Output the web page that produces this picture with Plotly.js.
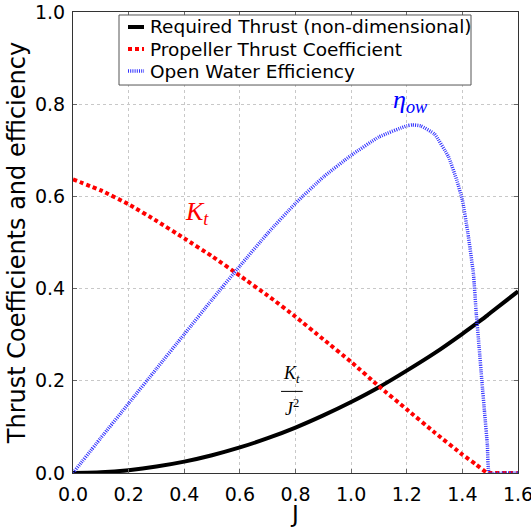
<!DOCTYPE html>
<html>
<head>
<meta charset="utf-8">
<script src="https://cdn.plot.ly/plotly-3.0.1.min.js"></script>
<style>html,body{margin:0;padding:0;background:#fff}#chart{width:531px;height:527px}</style>
</head>
<body>
<div id="chart"></div>
<script>
// Advance coefficient J for thrust curves
const J = [0, 0.1, 0.2, 0.3, 0.4, 0.5, 0.6, 0.7, 0.8, 0.9, 1.0, 1.1, 1.2, 1.3, 1.4, 1.45, 1.49, 1.5, 1.6];
// Required thrust (non-dimensional)
const requiredThrust = [0, 0.0015, 0.0062, 0.0139, 0.0246, 0.0385, 0.0554, 0.0755, 0.0986, 0.125, 0.154, 0.186, 0.222, 0.260, 0.302, 0.324, 0.342, 0.347, 0.394];
// Propeller thrust coefficient Kt
const thrustCoeff = [0.637, 0.613, 0.583, 0.547, 0.509, 0.470, 0.428, 0.385, 0.339, 0.290, 0.241, 0.188, 0.138, 0.088, 0.040, 0.018, 0, 0, 0];
// Open water efficiency
const Jeta = [0, 0.1, 0.2, 0.3, 0.4, 0.5, 0.6, 0.7, 0.8, 0.9, 1.0, 1.1, 1.2, 1.22, 1.25, 1.3, 1.35, 1.38, 1.4, 1.42, 1.44, 1.45, 1.46, 1.47, 1.48, 1.49, 1.497, 1.55, 1.6];
const efficiency = [0, 0.076, 0.151, 0.226, 0.301, 0.376, 0.449, 0.520, 0.585, 0.642, 0.689, 0.729, 0.753, 0.755, 0.753, 0.735, 0.686, 0.635, 0.592, 0.520, 0.430, 0.345, 0.275, 0.200, 0.130, 0.060, 0, 0, 0];

const seriesNames = ['Required Thrust (non-dimensional)', 'Propeller Thrust Coefficient', 'Open Water Efficiency'];
const xTicks = [0, 0.2, 0.4, 0.6, 0.8, 1.0, 1.2, 1.4, 1.6];
const yTicks = [0, 0.2, 0.4, 0.6, 0.8, 1.0];

const lineStyles = [
  {color: '#000000', width: 4},
  {color: '#ff0000', width: 4, dash: '4px,3px'},
  {color: 'rgb(50,50,255)', width: 3.5, dash: '1px,1.2px'}
];

const traces = [
  {x: J, y: requiredThrust, name: seriesNames[0], mode: 'lines', line: Object.assign({shape: 'spline', smoothing: 0.6}, lineStyles[0])},
  {x: J, y: thrustCoeff, name: seriesNames[1], mode: 'lines', line: Object.assign({shape: 'spline', smoothing: 0.4}, lineStyles[1])},
  {x: Jeta, y: efficiency, name: seriesNames[2], mode: 'lines', line: Object.assign({shape: 'spline', smoothing: 0.4}, lineStyles[2])}
];

const axisCommon = {
  showline: true, linecolor: '#333', linewidth: 1, mirror: 'all',
  ticks: 'inside', ticklen: 4, tickcolor: '#666', tickwidth: 1,
  showgrid: true, gridcolor: '#c8c8c8', griddash: 'dot', gridwidth: 1,
  zeroline: false, tickformat: '.1f', ticklabeloverflow: 'allow',
  tickfont: {family: 'DejaVu Sans', size: 19, color: '#000'}
};

// legend box drawn in paper coordinates (matplotlib-style compact legend)
const legBox = {x0: 0.1034, x1: 0.8944, y0: 0.8416, y1: 0.9935};
const legRowsY = [0.9675, 0.9197, 0.872];
const legSymX = [0.1236, 0.1596];
const legTextX = 0.1685;

const shapes = [
  {type: 'rect', xref: 'paper', yref: 'paper', x0: legBox.x0, x1: legBox.x1, y0: legBox.y0, y1: legBox.y1,
   fillcolor: '#ffffff', line: {color: '#555', width: 1}, layer: 'above'},
  {type: 'line', xref: 'x', yref: 'y', x0: 0.748, x1: 0.826, y0: 0.177, y1: 0.177, line: {color: '#000', width: 1}}
];
const annotations = [
  {x: 0.446, y: 0.564, xref: 'x', yref: 'y', text: '<i>K<sub>t</sub></i>', showarrow: false,
   font: {family: 'Liberation Serif', size: 26, color: '#ff0000'}},
  {x: 1.212, y: 0.806, xref: 'x', yref: 'y', text: '<i>η<sub>ow</sub></i>', showarrow: false,
   font: {family: 'Liberation Serif', size: 26, color: '#0000ff'}},
  {x: 0.786, y: 0.214, xref: 'x', yref: 'y', text: '<i>K<sub>t</sub></i>', showarrow: false,
   font: {family: 'Liberation Serif', size: 18, color: '#000'}},
  {x: 0.786, y: 0.143, xref: 'x', yref: 'y', text: '<i>J</i><sup>2</sup>', showarrow: false,
   font: {family: 'Liberation Serif', size: 18, color: '#000'}}
];
seriesNames.forEach((name, i) => {
  shapes.push({type: 'line', xref: 'paper', yref: 'paper', x0: legSymX[0], x1: legSymX[1],
    y0: legRowsY[i], y1: legRowsY[i], line: lineStyles[i], layer: 'above'});
  annotations.push({x: legTextX, y: legRowsY[i], xref: 'paper', yref: 'paper', xanchor: 'left', yanchor: 'middle',
    text: name, showarrow: false, font: {family: 'DejaVu Sans', size: 18.5, color: '#000'}});
});

const layout = {
  width: 531, height: 527,
  margin: {l: 73, r: 13, t: 12, b: 54},
  paper_bgcolor: '#fff', plot_bgcolor: '#fff',
  font: {family: 'DejaVu Sans', color: '#000'},
  xaxis: Object.assign({}, axisCommon, {
    range: [0, 1.6], tickvals: xTicks, ticklabelstandoff: 4,
    title: {text: 'J', font: {family: 'DejaVu Sans', size: 23}, standoff: 7}
  }),
  yaxis: Object.assign({}, axisCommon, {
    range: [0, 1.0], tickvals: yTicks, ticklabelstandoff: 3,
    title: {text: 'Thrust Coefficients and efficiency', font: {family: 'DejaVu Sans', size: 24}, standoff: 2}
  }),
  showlegend: false,
  annotations: annotations,
  shapes: shapes
};

Plotly.newPlot('chart', traces, layout, {displayModeBar: false, staticPlot: true});
</script>
</body>
</html>
